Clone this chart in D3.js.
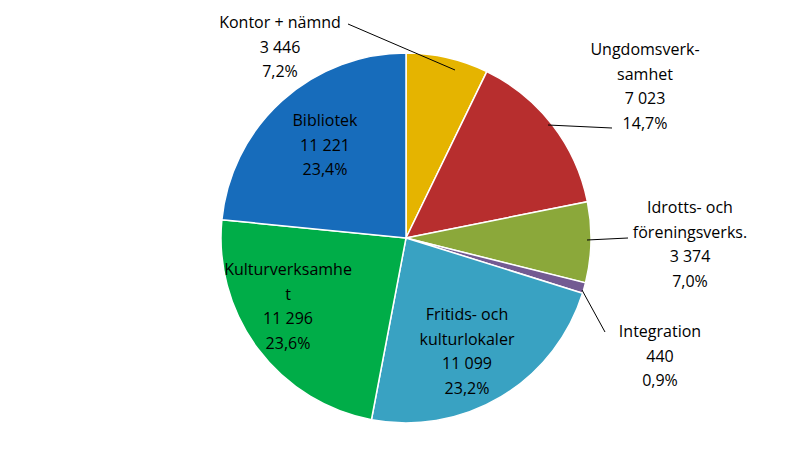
<!DOCTYPE html>
<html><head><meta charset="utf-8">
<script src="https://cdn.jsdelivr.net/npm/d3@7"></script>
<style>body{margin:0;background:#fff}text{font-family:"Open Sans","Liberation Sans",Arial,sans-serif;font-size:16px;fill:#000}</style>
</head><body>
<svg id="chart" width="811" height="475"></svg>
<script>
var categories = ['Kontor + nämnd', 'Ungdomsverk-\nsamhet', 'Idrotts- och\nföreningsverks.', 'Integration', 'Fritids- och\nkulturlokaler', 'Kulturverksamhe\nt', 'Bibliotek'];
var values = [3446, 7023, 3374, 440, 11099, 11296, 11221];
var valueLabels = ['3 446', '7 023', '3 374', '440', '11 099', '11 296', '11 221'];
var pctLabels = ['7,2%', '14,7%', '7,0%', '0,9%', '23,2%', '23,6%', '23,4%'];
var colors = ['#FFC800', '#CC3333', '#9BBB40', '#8064A2', '#3FB4D8', '#00C050', '#1A78D0'];

// label anchors and leader lines (layout only)
var labelPos = [[280, 28], [645, 55], [690, 213], [660, 337], [467, 320], [288, 275], [325, 126]];
var leaders = [[[348, 24], [455, 70]], [[612, 128], [548, 125]], [[628, 238], [587, 240]], [[605, 332], [582, 290]], null, null, null];

var cx = 406, cy = 238, r = 185;
var svg = d3.select('#chart');
var defs = svg.append('defs');
colors.forEach(function (c, i) {
    var g = defs.append('radialGradient').attr('id', 'g' + i)
        .attr('gradientUnits', 'userSpaceOnUse').attr('cx', cx).attr('cy', cy).attr('r', r);
    g.append('stop').attr('offset', '0%').attr('stop-color', d3.color(c).darker(0.5));
    g.append('stop').attr('offset', '55%').attr('stop-color', c);
    g.append('stop').attr('offset', '92%').attr('stop-color', d3.color(c).brighter(0.35));
    g.append('stop').attr('offset', '100%').attr('stop-color', d3.color(c).darker(0.3));
});

var pie = d3.pie().sort(null)(values);
var arc = d3.arc().innerRadius(0).outerRadius(r);
svg.append('g').attr('transform', 'translate(' + cx + ',' + cy + ')')
    .selectAll('path').data(pie).enter().append('path')
    .attr('d', arc)
    .attr('fill', function (d, i) { return 'url(#g' + i + ')'; })
    .attr('stroke', '#fff').attr('stroke-width', 1.5);

leaders.forEach(function (l) {
    if (!l) return;
    svg.append('line').attr('x1', l[0][0]).attr('y1', l[0][1]).attr('x2', l[1][0]).attr('y2', l[1][1])
        .attr('stroke', '#000').attr('stroke-width', 1);
});

categories.forEach(function (c, i) {
    var lines = c.split('\n').concat([valueLabels[i], pctLabels[i]]);
    var t = svg.append('text').attr('text-anchor', 'middle');
    lines.forEach(function (s, j) {
        t.append('tspan').attr('x', labelPos[i][0]).attr('y', labelPos[i][1] + j * 24.5).text(s);
    });
});
</script>
</body></html>
